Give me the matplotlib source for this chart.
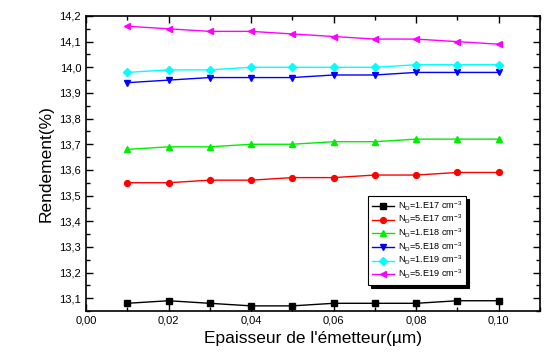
#!/usr/bin/env python3
import matplotlib
matplotlib.use("Agg")
import matplotlib.pyplot as plt
from matplotlib.ticker import MultipleLocator, FuncFormatter

plt.rcParams["font.family"] = ["Liberation Sans", "DejaVu Sans"]

thickness = [0.01, 0.02, 0.03, 0.04, 0.05, 0.06, 0.07, 0.08, 0.09, 0.10]
eff_1e17 = [13.08, 13.09, 13.08, 13.07, 13.07, 13.08, 13.08, 13.08, 13.09, 13.09]
eff_5e17 = [13.55, 13.55, 13.56, 13.56, 13.57, 13.57, 13.58, 13.58, 13.59, 13.59]
eff_1e18 = [13.68, 13.69, 13.69, 13.70, 13.70, 13.71, 13.71, 13.72, 13.72, 13.72]
eff_5e18 = [13.94, 13.95, 13.96, 13.96, 13.96, 13.97, 13.97, 13.98, 13.98, 13.98]
eff_1e19 = [13.98, 13.99, 13.99, 14.00, 14.00, 14.00, 14.00, 14.01, 14.01, 14.01]
eff_5e19 = [14.16, 14.15, 14.14, 14.14, 14.13, 14.12, 14.11, 14.11, 14.10, 14.09]
labels = ["1.E17", "5.E17", "1.E18", "5.E18", "1.E19", "5.E19"]

series = [
    (eff_1e17, "black", "s"),
    (eff_5e17, "red", "o"),
    (eff_1e18, "#00ee00", "^"),
    (eff_5e18, "blue", "v"),
    (eff_1e19, "cyan", "D"),
    (eff_5e19, "magenta", "<"),
]

fig = plt.figure(figsize=(5.49, 3.6), dpi=100)
ax = fig.add_axes([0.1566, 0.1361, 0.827, 0.8195])

for (ys, color, mk), lab in zip(series, labels):
    ms = 3.6 if mk == "D" else 4.2
    ax.plot(thickness, ys, color=color, marker=mk, markersize=ms, linewidth=1,
            label=r"N$_\mathregular{D}$=" + lab + r" cm$^\mathregular{-3}$")

ax.set_xlim(0, 0.11)
ax.set_ylim(13.05, 14.2)
ax.xaxis.set_major_locator(MultipleLocator(0.02))
ax.xaxis.set_minor_locator(MultipleLocator(0.01))
ax.yaxis.set_major_locator(MultipleLocator(0.1))
ax.yaxis.set_minor_locator(MultipleLocator(0.05))
ax.xaxis.set_major_formatter(FuncFormatter(lambda v, p: ("%.2f" % v).replace(".", ",")))
ax.yaxis.set_major_formatter(FuncFormatter(lambda v, p: ("%.1f" % v).replace(".", ",")))
ax.tick_params(which="both", direction="in", top=True, right=True, labelsize=8)
ax.tick_params(which="major", length=5, width=1)
ax.tick_params(which="minor", length=3, width=1)
for sp in ax.spines.values():
    sp.set_linewidth(1.2)

ax.set_xlabel("Epaisseur de l'émetteur(µm)", fontsize=12.5)
ax.set_ylabel("Rendement(%)", fontsize=12.5)

leg = ax.legend(loc="upper left", bbox_to_anchor=(0.621, 0.39), borderaxespad=0,
                fontsize=6.6, fancybox=False, edgecolor="black", framealpha=1,
                shadow={"color": "black", "alpha": 1}, handlelength=2.4,
                labelspacing=0.05, borderpad=0.4, handletextpad=0.5)
leg.get_frame().set_linewidth(0.8)

fig.savefig("out.png", dpi=100)
